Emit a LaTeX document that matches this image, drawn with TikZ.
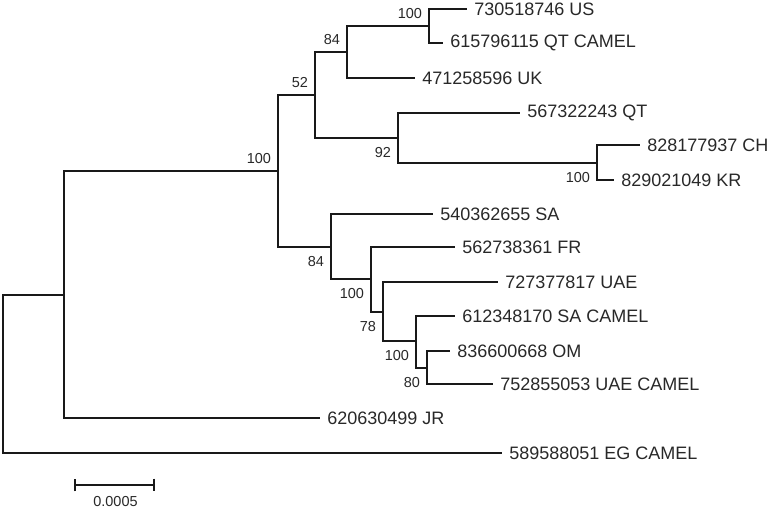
\documentclass[tikz,border=0pt]{standalone}
\usepackage{fontspec}
\setmainfont{Liberation Sans}
\usepackage{tikz}
\usetikzlibrary{arrows.meta}
\definecolor{ink}{RGB}{25,25,25}
\definecolor{txt}{RGB}{40,40,40}
\pgfdeclarelayer{edgelayer}
\pgfdeclarelayer{nodelayer}
\pgfsetlayers{edgelayer,nodelayer,main}
\tikzstyle{none}=[inner sep=0pt]
\tikzstyle{fork}=[inner sep=0pt, minimum size=0pt]
\tikzstyle{taxon}=[anchor=west, inner xsep=0.175cm, inner ysep=0pt, text=txt, font=\fontsize{12.8}{14}\selectfont]
\tikzstyle{bsup}=[anchor=south east, inner xsep=0.17cm, inner ysep=0.17cm, text=txt, font=\fontsize{10.3}{12}\selectfont]
\tikzstyle{bsdown}=[anchor=north east, inner xsep=0.17cm, inner ysep=0.22cm, text=txt, font=\fontsize{10.3}{12}\selectfont]
\tikzstyle{branch}=[-, draw=ink, line width=0.05cm]
\tikzstyle{scalebar}=[{Bar[width=0.32cm]}-{Bar[width=0.32cm]}, draw=ink, line width=0.05cm]

\begin{document}
\begin{tikzpicture}
	\useasboundingbox (0, 0) rectangle (19.2, -12.725);
	\begin{pgfonlayer}{nodelayer}
		% forks
		\node [style=fork] (0) at (0.075, -9.35) {};
		\node [style=fork] (1) at (1.6, -7.375) {};
		\node [style=fork] (2) at (6.95, -4.275) {};
		\node [style=fork] (3) at (7.875, -2.375) {};
		\node [style=fork] (4) at (8.675, -1.3) {};
		\node [style=fork] (5) at (10.725, -0.65) {};
		\node [style=fork] (6) at (9.95, -3.45) {};
		\node [style=fork] (7) at (14.925, -4.075) {};
		\node [style=fork] (8) at (8.275, -6.175) {};
		\node [style=fork] (9) at (9.275, -6.975) {};
		\node [style=fork] (10) at (9.575, -7.8) {};
		\node [style=fork] (11) at (10.4, -8.525) {};
		\node [style=fork] (12) at (10.675, -9.2) {};
		% leaves
		\node [style=taxon] (13) at (11.675, -0.225) {730518746 US};
		\node [style=taxon] (14) at (11.075, -1.075) {615796115 QT CAMEL};
		\node [style=taxon] (15) at (10.375, -1.95) {471258596 UK};
		\node [style=taxon] (16) at (13.0, -2.825) {567322243 QT};
		\node [style=taxon] (17) at (16.0, -3.625) {828177937 CH};
		\node [style=taxon] (18) at (15.35, -4.5) {829021049 KR};
		\node [style=taxon] (19) at (10.825, -5.35) {540362655 SA};
		\node [style=taxon] (20) at (11.375, -6.175) {562738361 FR};
		\node [style=taxon] (21) at (12.45, -7.05) {727377817 UAE};
		\node [style=taxon] (22) at (11.375, -7.9) {612348170 SA CAMEL};
		\node [style=taxon] (23) at (11.25, -8.775) {836600668 OM};
		\node [style=taxon] (24) at (12.325, -9.6) {752855053 UAE CAMEL};
		\node [style=taxon] (25) at (8.0, -10.45) {620630499 JR};
		\node [style=taxon] (26) at (12.55, -11.325) {589588051 EG CAMEL};
		% bootstrap values
		\node [style=bsup] (27) at (5) {100};
		\node [style=bsup] (28) at (4) {84};
		\node [style=bsup] (29) at (3) {52};
		\node [style=bsup] (30) at (2) {100};
		\node [style=bsdown] (31) at (6) {92};
		\node [style=bsdown] (32) at (7) {100};
		\node [style=bsdown] (33) at (8) {84};
		\node [style=bsdown] (34) at (9) {100};
		\node [style=bsdown] (35) at (10) {78};
		\node [style=bsdown] (36) at (11) {100};
		\node [style=bsdown] (37) at (12) {80};
		% scale
		\node [style=none] (40) at (1.825, -12.125) {};
		\node [style=none] (41) at (3.9, -12.125) {};
		\node [style=none, anchor=north, text=txt, font=\fontsize{10.3}{12}\selectfont] (42) at (2.8875, -12.4) {0.0005};
	\end{pgfonlayer}
	\begin{pgfonlayer}{edgelayer}
		\draw [style=branch] (0) |- (1);
		\draw [style=branch] (0) |- (26);
		\draw [style=branch] (1) |- (2);
		\draw [style=branch] (1) |- (25);
		\draw [style=branch] (2) |- (3);
		\draw [style=branch] (2) |- (8);
		\draw [style=branch] (3) |- (4);
		\draw [style=branch] (3) |- (6);
		\draw [style=branch] (4) |- (5);
		\draw [style=branch] (4) |- (15);
		\draw [style=branch] (5) |- (13);
		\draw [style=branch] (5) |- (14);
		\draw [style=branch] (6) |- (16);
		\draw [style=branch] (6) |- (7);
		\draw [style=branch] (7) |- (17);
		\draw [style=branch] (7) |- (18);
		\draw [style=branch] (8) |- (19);
		\draw [style=branch] (8) |- (9);
		\draw [style=branch] (9) |- (20);
		\draw [style=branch] (9) |- (10);
		\draw [style=branch] (10) |- (21);
		\draw [style=branch] (10) |- (11);
		\draw [style=branch] (11) |- (22);
		\draw [style=branch] (11) |- (12);
		\draw [style=branch] (12) |- (23);
		\draw [style=branch] (12) |- (24);
		\draw [style=scalebar] (40) to (41);
	\end{pgfonlayer}
\end{tikzpicture}
\end{document}
